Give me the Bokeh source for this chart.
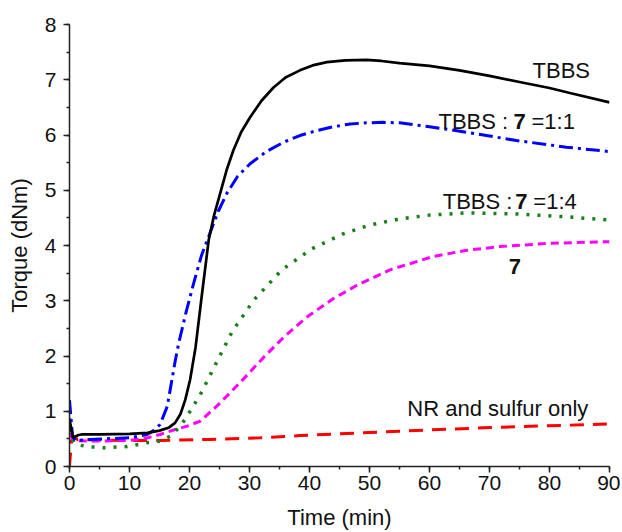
from bokeh.plotting import figure
from bokeh.models import Range1d, SingleIntervalTicker
from bokeh.core.properties import value
from bokeh.embed import file_html
from bokeh.resources import INLINE

# ---- data ----
t_tbbs = [0, 0.6, 1.5, 2, 5, 10, 13, 15, 16.5, 17.6, 18.5, 19.3, 20.1, 21, 22, 23.2, 24.1, 25.1,
          26.2, 27.3, 28.6, 30.1, 32, 34, 36, 38.4, 40.5, 42.9, 46, 49.5, 52, 55, 60, 65, 70, 75,
          80, 83.4, 90]
y_tbbs = [0.85, 0.52, 0.57, 0.58, 0.58, 0.59, 0.61, 0.65, 0.7, 0.79, 0.95, 1.21, 1.57, 2.15, 3.05, 4.1, 4.55, 4.94,
          5.37, 5.72, 6.05, 6.32, 6.62, 6.86, 7.04, 7.17, 7.26, 7.32, 7.35, 7.36, 7.34, 7.30, 7.25, 7.17, 7.07, 6.96,
          6.85, 6.76, 6.59]

t_11 = [0, 0.5, 1, 3.5, 10.1, 12.9, 14, 15.1, 16.3, 17.6, 18.2, 19.4, 20.7, 22, 23.5, 24.8, 26.2, 28,
        30.1, 32.8, 35.7, 38.4, 41.2, 44, 46.8, 49.5, 52.3, 55, 60, 66.2, 74.5, 82.8, 90]
y_11 = [1.2, 0.55, 0.47, 0.49, 0.52, 0.58, 0.65, 0.76, 1.09, 1.9, 2.23, 2.78, 3.32, 3.82, 4.25, 4.62, 4.94, 5.25,
        5.48, 5.7, 5.87, 5.99, 6.08, 6.15, 6.2, 6.22, 6.23, 6.22, 6.15, 6.05, 5.9, 5.78, 5.7]

t_14 = [0, 0.4, 1, 3, 5.7, 9.6, 12.9, 15.1, 16.8, 18.5, 20.1, 21.8, 24.3, 27.1, 30.7, 35.4,
        40.4, 45.6, 50, 55, 60, 66.2, 74.5, 82.8, 90]
y_14 = [0.88, 0.5, 0.4, 0.36, 0.34, 0.36, 0.43, 0.46, 0.55, 0.73, 1.0, 1.3, 1.84, 2.44, 3.01, 3.56,
        3.94, 4.21, 4.37, 4.48, 4.55, 4.59, 4.57, 4.52, 4.46]

t_7 = [0, 0.5, 1, 3.5, 10, 13, 15.1, 17.6, 19.6, 21.8, 25.1, 28.7, 32.3, 35.7, 39.5, 44,
       47.9, 53.4, 60.6, 66, 71.7, 80, 90]
y_7 = [0.6, 0.5, 0.47, 0.46, 0.47, 0.52, 0.58, 0.67, 0.73, 0.82, 1.15, 1.55, 1.97, 2.34, 2.7, 3.04,
       3.28, 3.56, 3.8, 3.91, 3.98, 4.04, 4.07]

t_nr = [0, 0.3, 0.6, 1.3, 9.6, 15.1, 23.5, 31.8, 38.4, 55, 68.9, 86.7, 90]
y_nr = [0.0, 0.45, 0.55, 0.49, 0.47, 0.47, 0.49, 0.52, 0.56, 0.64, 0.70, 0.76, 0.77]

x_ticks_interval = 10
y_ticks_interval = 1

FONT = "Liberation Sans"
TFS = "21px"
AFS = "22px"
LFS = "22px"

p = figure(width=620, height=532, output_backend="svg", toolbar_location=None,
           x_range=Range1d(0, 90), y_range=Range1d(0, 8),
           min_border_left=69, min_border_right=11, min_border_top=24, min_border_bottom=65)
p.outline_line_color = None
p.xgrid.visible = False
p.ygrid.visible = False
p.background_fill_color = "white"
p.border_fill_color = "white"

p.xaxis.ticker = SingleIntervalTicker(interval=x_ticks_interval, num_minor_ticks=2)
p.yaxis.ticker = SingleIntervalTicker(interval=y_ticks_interval, num_minor_ticks=2)
for ax in (p.xaxis[0], p.yaxis[0]):
    ax.axis_line_color = "#222222"
    ax.axis_line_width = 1.5
    ax.major_tick_line_color = "#222222"
    ax.minor_tick_line_color = "#222222"
    ax.major_tick_line_width = 1.5
    ax.minor_tick_line_width = 1.5
    ax.major_tick_in = 0
    ax.major_tick_out = 6
    ax.minor_tick_in = 0
    ax.minor_tick_out = 3
    ax.major_label_text_font = FONT
    ax.major_label_text_font_size = TFS
    ax.major_label_text_color = "#111111"
    ax.axis_label_text_font = FONT
    ax.axis_label_text_font_size = AFS
    ax.axis_label_text_font_style = "normal"
    ax.axis_label_text_color = "#111111"
p.xaxis.axis_label = "Time (min)"
p.yaxis.axis_label = "Torque (dNm)"
p.xaxis.major_label_standoff = 3
p.xaxis.axis_label_standoff = 12
p.yaxis.major_label_standoff = 7
p.yaxis.axis_label_standoff = 10

p.line(t_nr, y_nr, line_color="#ff0000", line_width=3, line_dash="14 9")
p.line(t_7, y_7, line_color="#ff00ff", line_width=3, line_dash="8 5")
p.line(t_14, y_14, line_color="#1a7f1a", line_width=3.5, line_dash="3 8")
p.line(t_11, y_11, line_color="#0000ff", line_width=3, line_dash="14 5 3 5")
p.line(t_tbbs, y_tbbs, line_color="#000000", line_width=2.7)

def label(x, y, s, bold=False):
    p.text(x=[x], y=[y], text=[s], text_font=value(FONT), text_font_size=LFS,
           text_font_style="bold" if bold else "normal", text_color="#111111",
           text_align="left", text_baseline="middle")

label(77.17, 7.16, "TBBS")
label(61.5, 6.25, "TBBS :")
label(74.0, 6.25, "7", bold=True)
label(77.0, 6.25, "=1:1")
label(62.2, 4.79, "TBBS :")
label(74.3, 4.79, "7", bold=True)
label(77.3, 4.79, "=1:4")
label(73.2, 3.62, "7", bold=True)
label(56.3, 1.05, "NR and sulfur only")

open("out.html", "w").write(file_html(p, INLINE))
